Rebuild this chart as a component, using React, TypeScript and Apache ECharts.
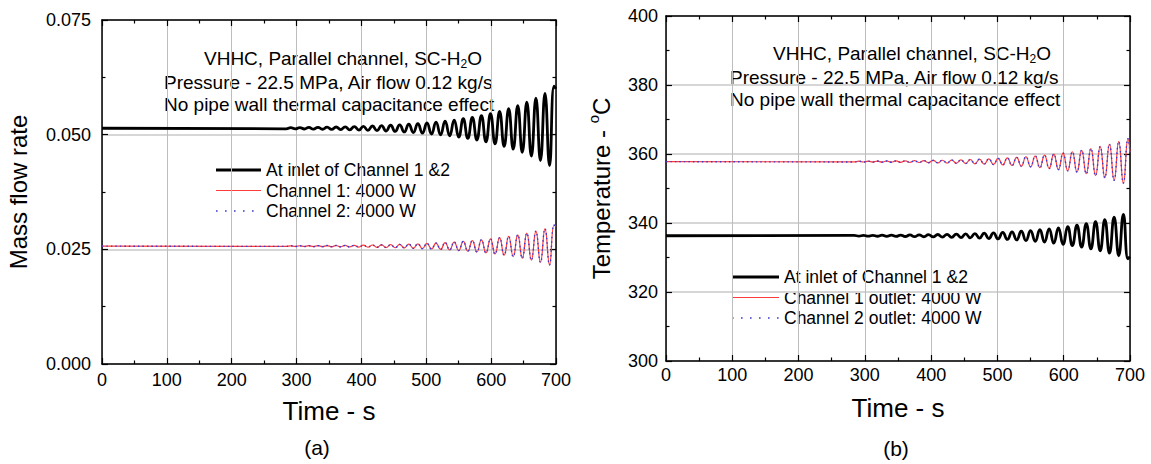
import React, { useEffect, useRef } from "react";
import * as echarts from "echarts";

// Times (s) of the successive peaks / troughs of the oscillation
const tExtrema = [
  284, 291, 298, 305, 312, 319, 326, 333, 340, 347,
  354, 361, 368, 375, 382, 389, 396, 403, 410, 417,
  424, 431, 438, 445, 452, 459, 466, 473, 480, 487,
  494, 501, 508, 515, 522, 529, 536, 543, 550, 557,
  564, 571, 578, 585, 592, 599, 606, 613, 620, 627,
  634, 641, 648, 655, 662, 669, 676, 683, 690, 697,
];

// (a) Mass flow rate, kg/s
const flowInletStart = 0.0514;
const flowInletEnd = 0.06;
const flowInlet = [
  0.05128, 0.05153, 0.05126, 0.05155, 0.05124, 0.05158, 0.05121, 0.05161, 0.05118, 0.05164,
  0.05115, 0.05167, 0.05111, 0.05172, 0.05106, 0.05177, 0.05101, 0.05182, 0.05095, 0.05189,
  0.05088, 0.05196, 0.05079, 0.05205, 0.0507, 0.05215, 0.05059, 0.05227, 0.05047, 0.0524,
  0.05032, 0.05256, 0.05015, 0.05274, 0.04996, 0.05295, 0.04976, 0.05319, 0.04948, 0.05347,
  0.04918, 0.05379, 0.04884, 0.05416, 0.04844, 0.05458, 0.04798, 0.05508, 0.04745, 0.05565,
  0.04683, 0.05631, 0.04615, 0.05707, 0.04531, 0.05795, 0.04436, 0.05897, 0.04327, 0.0606,
];
const flowChStart = 0.0257;
const flowChEnd = 0.03;
const flowChannel = [
  0.02564, 0.02577, 0.02563, 0.02578, 0.02562, 0.02579, 0.0256, 0.0258, 0.02559, 0.02582,
  0.02557, 0.02584, 0.02555, 0.02586, 0.02553, 0.02588, 0.0255, 0.02591, 0.02547, 0.02594,
  0.02544, 0.02598, 0.0254, 0.02603, 0.02535, 0.02608, 0.0253, 0.02613, 0.02523, 0.0262,
  0.02516, 0.02628, 0.02508, 0.02637, 0.02498, 0.02647, 0.02487, 0.02659, 0.02474, 0.02673,
  0.02459, 0.02689, 0.02442, 0.02708, 0.02422, 0.02729, 0.02399, 0.02754, 0.02372, 0.02782,
  0.02342, 0.02815, 0.02306, 0.02854, 0.02265, 0.02897, 0.02218, 0.02948, 0.02163, 0.0303,
];

// (b) Temperature, °C
const tempInletStart = 336.3;
const tempInletEnd = 330.2;
const tempInlet = [
  336.4, 336.19, 336.42, 336.17, 336.44, 336.16, 336.46, 336.13, 336.48, 336.11,
  336.51, 336.08, 336.54, 336.04, 336.58, 336.01, 336.62, 335.96, 336.67, 335.91,
  336.72, 335.85, 336.79, 335.78, 336.86, 335.7, 336.94, 335.61, 337.04, 335.5,
  337.16, 335.38, 337.29, 335.24, 337.44, 335.08, 337.61, 334.9, 337.81, 334.68,
  338.04, 334.44, 338.3, 334.15, 338.61, 333.83, 338.96, 333.45, 339.36, 333.01,
  339.83, 332.51, 340.36, 331.94, 340.98, 331.27, 341.7, 330.51, 342.52, 329.63,
];
const tempOutStart = 357.8;
const tempOutEnd = 360.5;
const tempOutlet = [
  357.7, 357.91, 357.68, 357.93, 357.67, 357.95, 357.64, 357.97, 357.62, 357.99,
  357.59, 358.02, 357.56, 358.06, 357.53, 358.1, 357.48, 358.14, 357.44, 358.19,
  357.38, 358.25, 357.32, 358.32, 357.24, 358.4, 357.16, 358.49, 357.06, 358.6,
  356.95, 358.72, 356.82, 358.86, 356.67, 359.02, 356.49, 359.2, 356.29, 359.42,
  356.06, 359.66, 355.8, 359.95, 355.49, 360.28, 355.14, 360.65, 354.74, 361.09,
  354.27, 361.59, 353.74, 362.16, 353.12, 362.83, 352.4, 363.59, 351.58, 364.47,
];

const xTicks = { min: 0, max: 700, interval: 100 };
const flowAxis = { min: 0, max: 0.075, interval: 0.025 };
const tempAxis = { min: 300, max: 400, interval: 20 };

const legendA = ["At inlet of Channel 1 &2", "Channel 1: 4000 W", "Channel 2: 4000 W"];
const legendB = ["At inlet of Channel 1 &2", "Channel 1 outlet: 4000 W", "Channel 2 outlet: 4000 W"];
const noteLines = [
  "VHHC, Parallel channel, SC-H{sub|2}O",
  "Pressure - 22.5 MPa, Air flow 0.12 kg/s",
  "No pipe wall thermal capacitance effect",
];

const FONT = "'Liberation Sans', Arial, Helvetica, sans-serif";
const BLACK = "#000000";
const RED = "#ff3a3a";
const BLUE = "#3b3bd6";

function build(start: number, vals: number[], end: number) {
  const d: number[][] = [[0, start]];
  tExtrema.forEach((t, i) => d.push([t, vals[i]]));
  d.push([700, end]);
  return d;
}

function xAxes(grid: number, labelMargin: number) {
  const common = {
    gridIndex: grid,
    type: "value",
    ...xTicks,
    axisLine: { show: true, onZero: false, lineStyle: { color: BLACK, width: 1.5 } },
    axisTick: { show: true, inside: true, length: 6, lineStyle: { color: BLACK, width: 1.2 } },
    minorTick: { show: true, splitNumber: 2, length: 3.5, lineStyle: { color: BLACK, width: 1.2 } },
  };
  return [
    {
      ...common,
      position: "bottom",
      axisLabel: { color: BLACK, fontSize: 18, margin: labelMargin, fontFamily: FONT },
      splitLine: { show: true, lineStyle: { color: "#bdbdbd", width: 1 } },
      name: "Time - s",
      nameLocation: "middle",
      nameGap: 34,
      nameTextStyle: { color: BLACK, fontSize: 26, fontFamily: FONT },
    },
    { ...common, position: "top", axisLabel: { show: false }, splitLine: { show: false } },
  ];
}

function yAxes(grid: number, range: any, name: string, gap: number, margin: number, fmt: (v: number) => string) {
  const common = {
    gridIndex: grid,
    type: "value",
    ...range,
    axisLine: { show: true, onZero: false, lineStyle: { color: BLACK, width: 1.5 } },
    axisTick: { show: true, inside: true, length: 6, lineStyle: { color: BLACK, width: 1.2 } },
    minorTick: { show: true, splitNumber: 2, length: 3.5, lineStyle: { color: BLACK, width: 1.2 } },
  };
  return [
    {
      ...common,
      position: "left",
      axisLabel: { color: BLACK, fontSize: 18, margin, fontFamily: FONT, formatter: fmt },
      splitLine: { show: true, lineStyle: { color: "#d6d6d6", width: 2 } },
      name,
      nameLocation: "middle",
      nameRotate: 90,
      nameGap: gap,
      nameTextStyle: {
        color: BLACK,
        fontSize: 24,
        fontFamily: FONT,
        rich: { sup: { fontSize: 15, fontFamily: FONT, color: BLACK, verticalAlign: "top", lineHeight: 14 } },
        lineHeight: 30,
      },
    },
    { ...common, position: "right", axisLabel: { show: false }, splitLine: { show: false } },
  ];
}

function legendGraphics(x1: number, x2: number, ys: number[], labels: string[]) {
  const styles = [
    { stroke: BLACK, lineWidth: 3 },
    { stroke: RED, lineWidth: 1.2 },
    { stroke: BLUE, lineWidth: 1.6, lineDash: [1.6, 7.4] },
  ];
  const els: any[] = [];
  labels.forEach((lab, i) => {
    els.push({ type: "line", shape: { x1, y1: ys[i], x2, y2: ys[i] }, style: styles[i], silent: true });
    els.push({
      type: "text",
      x: x2 + 5,
      y: ys[i],
      style: { text: lab, fontSize: 17.5, fontFamily: FONT, fill: BLACK, align: "left", verticalAlign: "middle" },
      silent: true,
    });
  });
  return els;
}

function noteGraphics(cx: number, lx: number, ys: number[]) {
  return [
    {
      type: "text",
      x: cx,
      y: ys[0],
      style: {
        text: noteLines[0],
        fontSize: 19,
        fontFamily: FONT,
        fill: BLACK,
        align: "center",
        verticalAlign: "middle",
        lineHeight: 24,
        rich: { sub: { fontSize: 12, fontFamily: FONT, fill: BLACK, verticalAlign: "bottom", lineHeight: 12 } },
      },
      silent: true,
    },
    {
      type: "text",
      x: lx,
      y: ys[1],
      style: { text: noteLines[1], fontSize: 19, fontFamily: FONT, fill: BLACK, align: "left", verticalAlign: "middle" },
      silent: true,
    },
    {
      type: "text",
      x: lx,
      y: ys[2],
      style: { text: noteLines[2], fontSize: 19, fontFamily: FONT, fill: BLACK, align: "left", verticalAlign: "middle" },
      silent: true,
    },
  ];
}

export default function App() {
  const ref = useRef<HTMLDivElement>(null);
  useEffect(() => {
    if (!ref.current) return;
    const chart = echarts.init(ref.current, undefined, { renderer: "svg" });
    const lineCommon = { type: "line", symbol: "none", smooth: 0.5, silent: true };
    chart.setOption({
      animation: false,
      backgroundColor: "#ffffff",
      textStyle: { fontFamily: FONT },
      grid: [
        { left: 102, top: 20, width: 454, height: 344 },
        { left: 666, top: 16, width: 464, height: 345 },
      ],
      xAxis: [...xAxes(0, 7), ...xAxes(1, 5)],
      yAxis: [
        ...yAxes(0, flowAxis, "Mass flow rate", 69, 11, (v: number) => v.toFixed(3)),
        ...yAxes(1, tempAxis, "Temperature - {sup|o}C", 50, 8, (v: number) => String(v)),
      ],
      series: [
        {
          ...lineCommon,
          name: legendA[1],
          xAxisIndex: 0,
          yAxisIndex: 0,
          data: build(flowChStart, flowChannel, flowChEnd),
          lineStyle: { color: RED, width: 1.2 },
        },
        {
          ...lineCommon,
          name: legendA[2],
          xAxisIndex: 0,
          yAxisIndex: 0,
          data: build(flowChStart, flowChannel, flowChEnd),
          lineStyle: { color: BLUE, width: 1.4, type: [1.5, 3] },
        },
        {
          ...lineCommon,
          name: legendA[0],
          xAxisIndex: 0,
          yAxisIndex: 0,
          data: build(flowInletStart, flowInlet, flowInletEnd),
          lineStyle: { color: BLACK, width: 2.8 },
        },
        {
          ...lineCommon,
          name: legendB[1],
          xAxisIndex: 2,
          yAxisIndex: 2,
          data: build(tempOutStart, tempOutlet, tempOutEnd),
          lineStyle: { color: RED, width: 1.2 },
        },
        {
          ...lineCommon,
          name: legendB[2],
          xAxisIndex: 2,
          yAxisIndex: 2,
          data: build(tempOutStart, tempOutlet, tempOutEnd),
          lineStyle: { color: BLUE, width: 1.4, type: [1.5, 3] },
        },
        {
          ...lineCommon,
          name: "inletB",
          xAxisIndex: 2,
          yAxisIndex: 2,
          data: build(tempInletStart, tempInlet, tempInletEnd),
          lineStyle: { color: BLACK, width: 2.8 },
        },
      ],
      graphic: [
        ...noteGraphics(343, 164, [58, 82, 104]),
        ...noteGraphics(912, 730, [53, 77, 99]),
        ...legendGraphics(216, 261, [170, 190.5, 211], legendA),
        ...legendGraphics(732, 779, [277, 297.5, 318], legendB),
        {
          type: "text",
          x: 317,
          y: 447,
          style: { text: "(a)", fontSize: 21, fontFamily: FONT, fill: BLACK, align: "center", verticalAlign: "middle" },
          silent: true,
        },
        {
          type: "text",
          x: 896,
          y: 448,
          style: { text: "(b)", fontSize: 21, fontFamily: FONT, fill: BLACK, align: "center", verticalAlign: "middle" },
          silent: true,
        },
      ],
    });
    return () => chart.dispose();
  }, []);
  return (
    <div
      ref={ref}
      style={{ position: "fixed", left: 0, top: 0, width: 1151, height: 464, background: "#ffffff" }}
    />
  );
}
